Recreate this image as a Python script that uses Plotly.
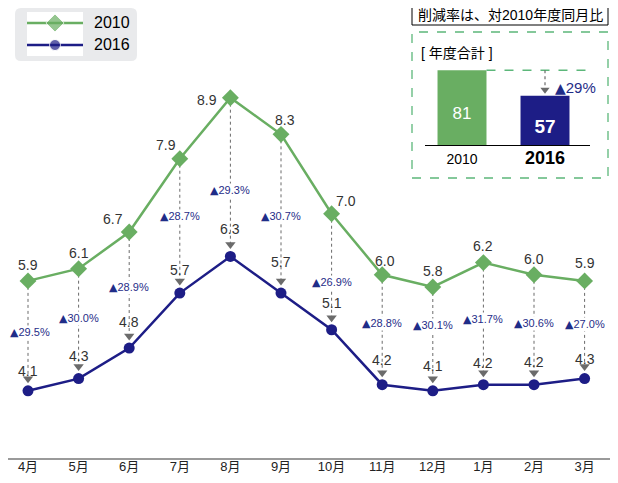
import plotly.graph_objects as go

# ---------------- data ----------------
months = ['4月', '5月', '6月', '7月', '8月', '9月', '10月', '11月', '12月', '1月', '2月', '3月']
v2010 = [5.9, 6.1, 6.7, 7.9, 8.9, 8.3, 7.0, 6.0, 5.8, 6.2, 6.0, 5.9]
v2016 = [4.1, 4.3, 4.8, 5.7, 6.3, 5.7, 5.1, 4.2, 4.1, 4.2, 4.2, 4.3]
reduction = [29.5, 30.0, 28.9, 28.7, 29.3, 30.7, 26.9, 28.8, 30.1, 31.7, 30.6, 27.0]
total_years = ['2010', '2016']
total_values = [81, 57]
total_reduction = 29
series_names = ['2010', '2016']

# ---------------- style ----------------
GREEN = '#69ae62'
NAVY = '#1d1d86'
PCT = '#1f2d88'
GRAY = '#6b6b6b'
FONT = 'Liberation Sans, Arial, Noto Sans CJK JP, sans-serif'
NARROW = 'Liberation Sans Narrow, Arial Narrow, Liberation Sans, sans-serif'
TRI = '<span style="font-family:DejaVu Sans;font-size:11px">▲</span>'

# the page body has an 8px margin, so the figure is drawn 8px smaller and
# reference pixel coordinates are offset by 8
OFF = 8
W, H = 618 - OFF, 483 - OFF
ML, MR, MT, MB = 0, 8, 0, 25
PW, PH = W - ML - MR, H - MT - MB
STEP = 50.6                      # px per month
FIRST = 28 - OFF - ML            # centre of first month in plot px
XR = [-FIRST / STEP, (PW - FIRST) / STEP]
PX_PER_UNIT = 61.07
YR = [3.0, 3.0 + PH / PX_PER_UNIT]


def px(x):
    return (x - OFF - ML) / PW


def py(y):
    return (MT + PH - (y - OFF)) / PH


# label offsets (pixels)
shift2010 = [(0, 16), (0, 16), (-16, 13), (-14, 14), (-23, -2), (4, 14),
             (14, 13), (3, 14), (0, 16), (0, 17), (0, 16), (0, 18)]
shift2016 = [20, 23, 26, 23, 27, 31, 27, 25, 25, 22, 23, 20]
shift_pct = [(2, -3), (0, -1), (0, -3), (0, 3), (0, -19), (0, -9), (0, -17),
             (0, 0), (0, 7), (0, -2), (0, 0), (0, -1)]
arrow_off = 12 / PX_PER_UNIT

fig = go.Figure()

# dotted connectors
cx, cy = [], []
for m, a, b in zip(months, v2010, v2016):
    cx += [m, m, None]
    cy += [a, b + arrow_off, None]
fig.add_trace(go.Scatter(x=cx, y=cy, mode='lines', line=dict(color=GRAY, width=1, dash='dot'),
                         showlegend=False, hoverinfo='skip'))
fig.add_trace(go.Scatter(x=months, y=[b + arrow_off for b in v2016], mode='markers',
                         marker=dict(symbol='triangle-down', size=9, color=GRAY),
                         showlegend=False, hoverinfo='skip'))

fig.add_trace(go.Scatter(x=months, y=v2010, mode='lines+markers', name=series_names[0],
                         line=dict(color=GREEN, width=2.5),
                         marker=dict(symbol='diamond', size=13, color=GREEN), showlegend=False))
fig.add_trace(go.Scatter(x=months, y=v2016, mode='lines+markers', name=series_names[1],
                         line=dict(color=NAVY, width=2.5),
                         marker=dict(symbol='circle', size=11, color=NAVY), showlegend=False))

annotations = []
for i, m in enumerate(months):
    dx, dy = shift2010[i]
    annotations.append(dict(x=m, y=v2010[i], xref='x', yref='y', text=f'{v2010[i]:.1f}',
                            showarrow=False, xshift=dx, yshift=dy, xanchor='center', yanchor='middle',
                            font=dict(size=14, color='#333333', family=FONT)))
    annotations.append(dict(x=m, y=v2016[i], xref='x', yref='y', text=f'{v2016[i]:.1f}',
                            showarrow=False, yshift=shift2016[i], xanchor='center', yanchor='middle',
                            font=dict(size=14, color='#333333', family=FONT)))
    mid = (v2010[i] + v2016[i] + arrow_off) / 2
    sx, sy = shift_pct[i]
    annotations.append(dict(x=m, y=mid, xref='x', yref='y', xshift=sx, yshift=sy,
                            text=f'{TRI}{reduction[i]:.1f}%',
                            showarrow=False, xanchor='center', yanchor='middle', bgcolor='white',
                            borderpad=0, font=dict(size=11, color=PCT, family=NARROW)))

# ---------------- legend (drawn) ----------------
leg_colors = [GREEN, NAVY]
leg_symbols = ['diamond', 'circle']
leg_sizes = [14, 11]
for k, name in enumerate(series_names):
    fig.add_trace(go.Scatter(x=[0, 0.5, 1], y=[k, k, k], xaxis='x3', yaxis='y3', mode='lines+markers',
                             line=dict(color=leg_colors[k], width=2.5),
                             marker=dict(symbol=leg_symbols[k], size=[0, leg_sizes[k], 0],
                                         color=leg_colors[k]),
                             cliponaxis=False, showlegend=False, hoverinfo='skip', name=name))
    annotations.append(dict(x=px(92), y=k, xref='paper', yref='y3', text=name, showarrow=False,
                            xanchor='left', yanchor='middle',
                            font=dict(size=16, color='black', family=FONT)))

# ---------------- inset ----------------
bar_px_per_unit = 1.067
y2_base = 10
y2_top = y2_base + (146 - 60) / bar_px_per_unit
fig.add_trace(go.Bar(x=total_years, y=total_values, xaxis='x2', yaxis='y2',
                     marker=dict(color=[GREEN, NAVY], line=dict(width=0)),
                     text=[str(total_values[0]), f'<b>{total_values[1]}</b>'],
                     textposition='inside', insidetextanchor='middle', textangle=0,
                     textfont=dict(color='white', size=[17, 19], family=FONT),
                     showlegend=False, hoverinfo='skip', width=0.59))
fig.add_trace(go.Scatter(x=[total_years[1]], y=[total_values[1] + 6 / bar_px_per_unit],
                         xaxis='x2', yaxis='y2', mode='markers',
                         marker=dict(symbol='triangle-down', size=8, color=GRAY),
                         showlegend=False, hoverinfo='skip'))

shapes = [
    # legend background
    dict(type='path', xref='paper', yref='paper', layer='below', fillcolor='#e9eaec', line=dict(width=0),
         path=(f'M{px(21)},{py(8)} L{px(131)},{py(8)} Q{px(137)},{py(8)} {px(137)},{py(14)} '
               f'L{px(137)},{py(55)} Q{px(137)},{py(61)} {px(131)},{py(61)} '
               f'L{px(21)},{py(61)} Q{px(15)},{py(61)} {px(15)},{py(55)} '
               f'L{px(15)},{py(14)} Q{px(15)},{py(8)} {px(21)},{py(8)} Z')),
    # title box
    dict(type='rect', xref='paper', yref='paper', x0=px(412), x1=px(608), y0=py(25), y1=py(5),
         line=dict(color='black', width=1), fillcolor='white'),
    # dashed green box
    dict(type='rect', xref='paper', yref='paper', x0=px(412), x1=px(608), y0=py(178), y1=py(32),
         line=dict(color='#5cb77a', width=1.3, dash='dash')),
    # baseline
    dict(type='line', xref='paper', yref='y2', x0=px(425), x1=px(590), y0=y2_base, y1=y2_base,
         line=dict(color='black', width=2)),
    # green dashed reference at 2010 total
    dict(type='line', xref='x2', yref='y2', x0=0.295, x1=1.54, y0=total_values[0], y1=total_values[0],
         line=dict(color='#5cb77a', width=1.3, dash='dash')),
    # gray dashed arrow stem
    dict(type='line', xref='x2', yref='y2', x0=1, x1=1, y0=total_values[0],
         y1=total_values[1] + 9 / bar_px_per_unit, line=dict(color=GRAY, width=1.2, dash='dot')),
]

annotations += [
    dict(x=px(510), y=py(15), xref='paper', yref='paper', text='削減率は、対2010年度同月比',
         showarrow=False, xanchor='center', yanchor='middle',
         font=dict(size=14, color='black', family=FONT)),
    dict(x=px(419), y=py(53), xref='paper', yref='paper', text='[ 年度合計 ]',
         showarrow=False, xanchor='left', yanchor='middle',
         font=dict(size=14, color='black', family=FONT)),
    dict(x=px(553), y=y2_base + (146 - 88) / bar_px_per_unit,
         xref='paper', yref='y2', text=f'<span style="font-family:DejaVu Sans;font-size:14px">▲</span>{total_reduction}%',
         showarrow=False, xanchor='left', yanchor='middle',
         font=dict(size=15, color=PCT, family=FONT)),
]

fig.update_layout(
    width=W, height=H, autosize=False,
    margin=dict(l=ML, r=MR, t=MT, b=MB),
    paper_bgcolor='white', plot_bgcolor='white',
    font=dict(family=FONT),
    showlegend=False,
    xaxis=dict(type='category', range=XR, showline=True, linecolor='#9a9a9a', linewidth=2,
               ticks='', showgrid=False, zeroline=False, ticklabelstandoff=-5,
               tickfont=dict(size=13, color='#222222', family=FONT)),
    yaxis=dict(range=YR, visible=False, showgrid=False),
    xaxis2=dict(type='category', anchor='y2', domain=[px(420.5), px(586.5)], range=[-0.5, 1.5],
                showline=False, ticks='', showgrid=False, zeroline=False, ticklabelstandoff=3,
                tickvals=total_years,
                ticktext=[total_years[0], f'<b><span style="font-size:18px">{total_years[1]}</span></b>'],
                tickfont=dict(size=14, color='black', family=FONT)),
    yaxis2=dict(anchor='x2', domain=[py(146), py(60)], range=[y2_base, y2_top], visible=False),
    xaxis3=dict(anchor='y3', domain=[px(27), px(83)], range=[0, 1], visible=False),
    yaxis3=dict(anchor='x3', domain=[py(56), py(12)], range=[1.5, -0.5], visible=False),
    shapes=shapes,
    annotations=annotations,
)

fig.write_html('out.html')
